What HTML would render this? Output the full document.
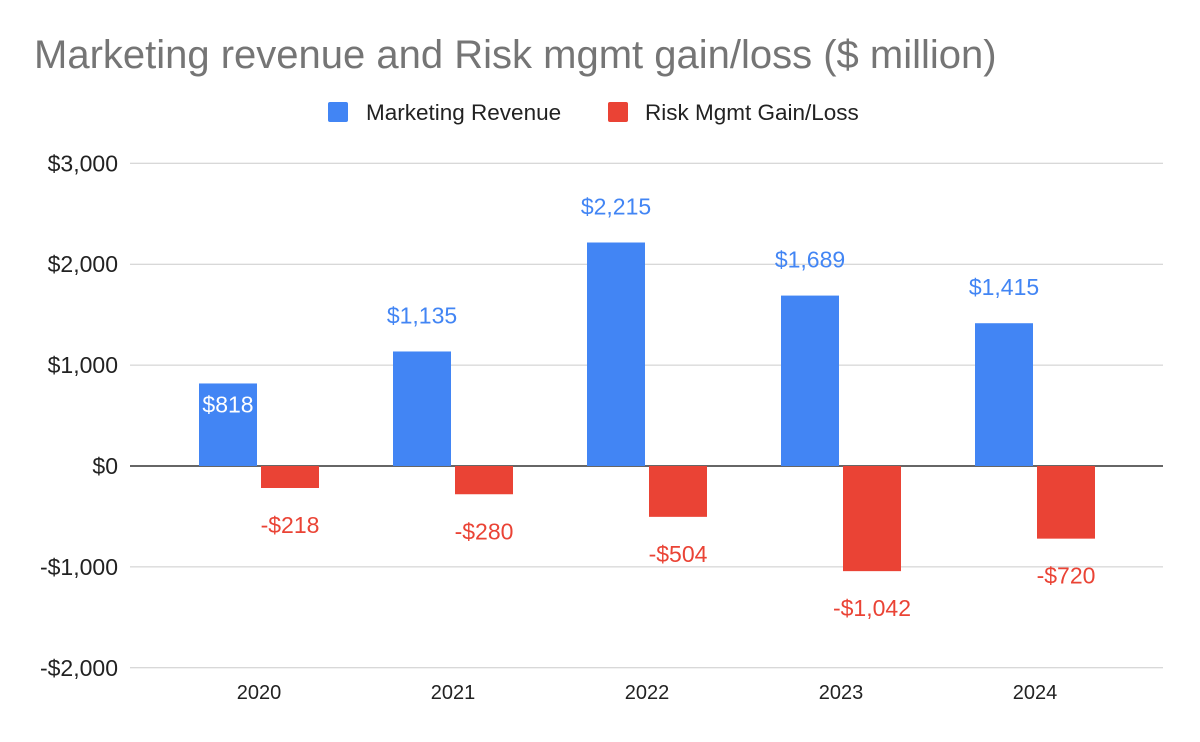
<!DOCTYPE html>
<html><head><meta charset="utf-8"><style>
body{margin:0;background:#fff;}
svg{display:block;font-family:"Liberation Sans",Arial,sans-serif;}
</style></head><body>
<svg id="chart" width="1200" height="742">
<rect width="1200" height="742" fill="#fff"/>
<text x="34" y="68" font-size="40" fill="#757575">Marketing revenue and Risk mgmt gain/loss ($ million)</text>
<g>
<rect x="328" y="102" width="20" height="20" rx="2" fill="#4285f4"/>
<text x="366" y="120" font-size="22.5" fill="#222">Marketing Revenue</text>
<rect x="608" y="102" width="20" height="20" rx="2" fill="#ea4335"/>
<text x="645" y="120" font-size="22.5" fill="#222">Risk Mgmt Gain/Loss</text>
</g>
<g id="grid"></g><g id="bars"></g><g id="labels"></g>
</svg>
<script>
const categories=["2020","2021","2022","2023","2024"];
const marketing=[818,1135,2215,1689,1415];
const risk=[-218,-280,-504,-1042,-720];
const ticks=[3000,2000,1000,0,-1000,-2000];
const tickLabels=["$3,000","$2,000","$1,000","$0","-$1,000","-$2,000"];
const fmt=v=>(v<0?"-$":"$")+Math.abs(v).toLocaleString("en-US");
const ns="http://www.w3.org/2000/svg";
const y=v=>466-v*0.1009;
const xc=i=>259+i*194;
function mk(tag,attrs,parent,text){const e=document.createElementNS(ns,tag);for(const k in attrs)e.setAttribute(k,attrs[k]);if(text!==undefined)e.textContent=text;document.getElementById(parent).appendChild(e);return e;}
ticks.forEach((t,i)=>{
 const l=mk("line",{x1:130,x2:1163,y1:y(t),y2:y(t),stroke:t===0?"#333":"#ccc","stroke-width":t===0?1.5:1},"grid");
 
 
 const tx=mk("text",{x:118,y:y(t)+8,"text-anchor":"end","font-size":23,fill:"#222"},"grid",tickLabels[i]);
 
 
});
categories.forEach((c,i)=>{
 const t=mk("text",{x:xc(i),y:699,"text-anchor":"middle","font-size":20,fill:"#222"},"grid",c);
 
 
 const m=marketing[i],r=risk[i];
 const b=mk("rect",{x:xc(i)-60,y:Math.min(y(m),y(0)),width:58,height:Math.abs(y(m)-y(0)),fill:"#4285f4"},"bars");
 
 
 const rb=mk("rect",{x:xc(i)+2,y:Math.min(y(r),y(0)),width:58,height:Math.abs(y(r)-y(0)),fill:"#ea4335"},"bars");
 
 
 const inside=m<1000;
 const ml=mk("text",{x:xc(i)-31,y:inside?y(m)+29:y(m)-28,"text-anchor":"middle","font-size":23,fill:inside?"#fff":"#4285f4"},"labels",fmt(m));
 
 
 const rl=mk("text",{x:xc(i)+31,y:y(r)+45,"text-anchor":"middle","font-size":23,fill:"#ea4335"},"labels",fmt(r));
 
 
});
</script>
</body></html>
